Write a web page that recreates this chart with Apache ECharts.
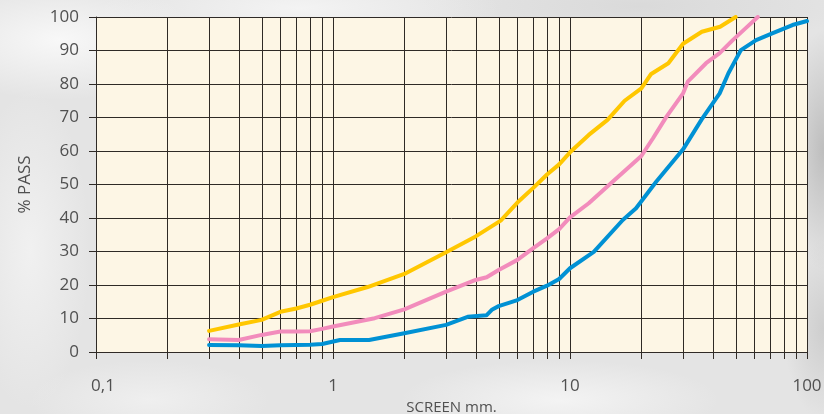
<!DOCTYPE html>
<html>
<head>
<meta charset="utf-8">
<script src="https://cdn.jsdelivr.net/npm/echarts@6/dist/echarts.min.js"></script>
<style>
  html, body { margin: 0; padding: 0; }
  body {
    width: 824px; height: 414px; overflow: hidden;
    background-color: #e4e4e4;
    background-image:
      radial-gradient(ellipse 140px 60px at 60px 40px, rgba(250,250,250,0.9), rgba(250,250,250,0)),
      radial-gradient(ellipse 200px 40px at 300px 8px, rgba(245,245,245,0.9), rgba(245,245,245,0)),
      radial-gradient(ellipse 220px 40px at 640px 6px, rgba(215,215,215,0.8), rgba(215,215,215,0)),
      radial-gradient(ellipse 40px 120px at 824px 150px, rgba(185,185,185,0.9), rgba(185,185,185,0)),
      radial-gradient(ellipse 40px 90px at 824px 330px, rgba(200,200,200,0.8), rgba(200,200,200,0)),
      radial-gradient(ellipse 160px 40px at 560px 400px, rgba(245,245,245,0.9), rgba(245,245,245,0)),
      radial-gradient(ellipse 120px 40px at 150px 400px, rgba(240,240,240,0.9), rgba(240,240,240,0)),
      radial-gradient(ellipse 60px 160px at 30px 250px, rgba(242,242,242,0.9), rgba(242,242,242,0));
  }
  #chart { width: 824px; height: 414px; }
</style>
</head>
<body>
<div id="chart"></div>
<script>
// Sieve sizes (mm) and percent passing for each grading curve
const yellowSize = [0.3, 0.4, 0.5, 0.6, 0.7, 0.8, 0.9, 1, 1.4, 2, 3, 4, 5.1, 6, 7, 8, 9, 10, 12, 14.4, 17, 20, 22, 26, 30, 36, 43, 50];
const yellowPass = [6.3, 8.2, 9.6, 12, 13, 14.1, 15.3, 16.4, 19.4, 23.3, 29.8, 34.5, 39.2, 44.6, 49, 53, 56, 59.6, 64.8, 69.3, 75, 78.7, 83, 86.2, 92, 95.6, 97.1, 100];

const pinkSize = [0.3, 0.4, 0.5, 0.6, 0.7, 0.8, 0.9, 1, 1.5, 2, 3, 4, 4.45, 5, 6, 7, 8, 9, 10, 12, 14.1, 20, 22.4, 25.5, 30, 31.4, 37.5, 42.8, 48.6, 55, 62];
const pinkPass = [3.8, 3.6, 5.1, 6.1, 6.1, 6.2, 6.9, 7.6, 10.1, 12.7, 18, 21.5, 22.3, 24.5, 27.5, 31, 33.9, 36.7, 40.2, 44.4, 48.9, 58.5, 63.8, 70.2, 77.2, 80.7, 86.2, 89.2, 93.1, 96.6, 100];

const blueSize = [0.3, 0.4, 0.5, 0.6, 0.7, 0.8, 0.9, 1.07, 1.42, 2, 3, 3.7, 4.45, 4.7, 5, 6, 7, 8, 9, 10, 12.6, 16.7, 19, 23.1, 30, 36, 42.8, 46.6, 52.6, 61, 71.3, 86.8, 100];
const bluePass = [2.1, 2.0, 1.8, 2.0, 2.1, 2.2, 2.4, 3.6, 3.6, 5.6, 8.1, 10.5, 11.0, 12.7, 13.7, 15.5, 18, 19.8, 21.8, 25, 29.9, 39.4, 42.9, 50.8, 60.5, 69.5, 77.2, 83.2, 90.1, 93.1, 95.1, 97.6, 98.8];

// Intermediate log-grid positions between decades
const minorSizes = [0.2, 0.3, 0.4, 0.5, 0.6, 0.7, 0.8, 0.9,
                    2, 3, 4, 5, 6, 7, 8, 9,
                    20, 30, 40, 50, 60, 70, 80, 90];

const gridColor = '#2f2a26';
const textColor = '#505050';
const fontFamily = '"Open Sans", "Noto Sans", sans-serif';

const zip = (xs, ys) => xs.map((x, i) => [x, ys[i]]);

const curve = (name, color, xs, ys) => ({
  name, type: 'line', data: zip(xs, ys),
  showSymbol: false, symbol: 'none', smooth: false, z: 5,
  lineStyle: { color, width: 4, join: 'round', cap: 'round' }
});

const chart = echarts.init(document.getElementById('chart'), null, { renderer: 'canvas' });
chart.setOption({
  backgroundColor: 'transparent',
  animation: false,
  grid: {
    left: 96, right: 17, top: 17, bottom: 62,
    outerBoundsMode: 'none', containLabel: false,
    show: true, backgroundColor: '#fdf6e5', borderWidth: 0
  },
  xAxis: {
    type: 'log', logBase: 10, min: 0.1, max: 100,
    name: 'SCREEN mm.', nameLocation: 'middle', nameGap: 45,
    nameTextStyle: { color: textColor, fontSize: 15, fontFamily },
    axisLine: { show: true, lineStyle: { color: gridColor, width: 1 } },
    axisTick: { show: true, length: 7, lineStyle: { color: gridColor, width: 1 } },
    splitLine: { show: true, lineStyle: { color: gridColor, width: 1 } },
    axisLabel: {
      color: textColor, fontSize: 17, fontFamily, margin: 26,
      formatter: v => (v < 0.5 ? '{first|0,1}' : String(Math.round(v))),
      rich: {
        first: { color: textColor, fontSize: 17, fontFamily, padding: [0, 0, 0, 14] }
      }
    }
  },
  yAxis: {
    type: 'value', min: 0, max: 100, interval: 10,
    name: '% PASS', nameLocation: 'middle', nameGap: 62, nameRotate: 90,
    nameTextStyle: { color: textColor, fontSize: 17, fontFamily },
    axisLine: { show: true, lineStyle: { color: gridColor, width: 1 } },
    axisTick: { show: true, length: 7, lineStyle: { color: gridColor, width: 1 } },
    splitLine: { show: true, lineStyle: { color: gridColor, width: 1 } },
    axisLabel: { color: textColor, fontSize: 17, fontFamily, margin: 17 }
  },
  series: [
    {
      // minor vertical grid lines with their outward ticks
      type: 'custom', coordinateSystem: 'cartesian2d', clip: false, z: 1, silent: true,
      data: minorSizes.map(v => [v, 0]),
      renderItem: (params, api) => {
        const top = api.coord([api.value(0), 100]);
        const bottom = api.coord([api.value(0), 0]);
        const x = Math.round(top[0]) + 0.5;
        return {
          type: 'line',
          shape: { x1: x, y1: top[1], x2: x, y2: bottom[1] + 7 },
          style: { stroke: gridColor, lineWidth: 1 }
        };
      }
    },
    curve('yellow', '#ffc700', yellowSize, yellowPass),
    curve('pink', '#f28cbc', pinkSize, pinkPass),
    curve('blue', '#0091d4', blueSize, bluePass)
  ]
});
</script>
</body>
</html>
